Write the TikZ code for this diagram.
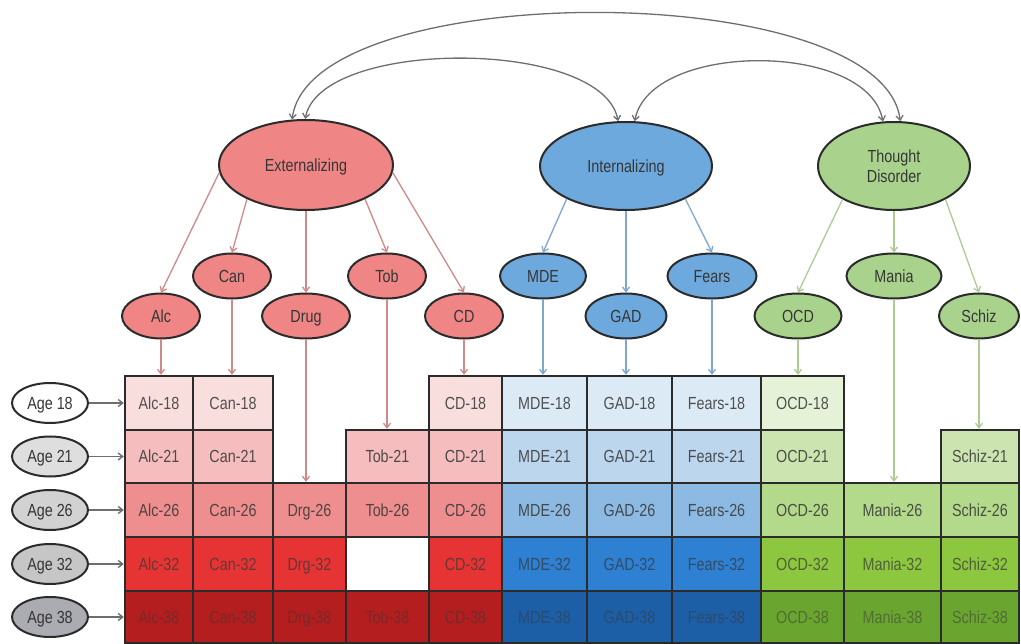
\documentclass[tikz,border=0pt]{standalone}
\usepackage{fontspec}
\setmainfont[FakeStretch=0.82]{Liberation Sans}
\usetikzlibrary{shapes.geometric,arrows.meta}

\definecolor{r18}{HTML}{F9DEDE}
\definecolor{r21}{HTML}{F5BDBD}
\definecolor{r26}{HTML}{EE8E8E}
\definecolor{r32}{HTML}{E63434}
\definecolor{r38}{HTML}{B41E1E}
\definecolor{b18}{HTML}{DCEAF6}
\definecolor{b21}{HTML}{BCD6EE}
\definecolor{b26}{HTML}{8DBAE3}
\definecolor{b32}{HTML}{2E80D2}
\definecolor{b38}{HTML}{1D5FA6}
\definecolor{g18}{HTML}{E5F2D8}
\definecolor{g21}{HTML}{CCE5B0}
\definecolor{g26}{HTML}{B3D98A}
\definecolor{g32}{HTML}{8DC63F}
\definecolor{g38}{HTML}{6AA530}
\definecolor{a18}{HTML}{FFFFFF}
\definecolor{a21}{HTML}{DEDEDE}
\definecolor{a26}{HTML}{D2D2D2}
\definecolor{a32}{HTML}{C6C6C6}
\definecolor{a38}{HTML}{ABABB2}
\definecolor{extfill}{HTML}{EF8585}
\definecolor{intfill}{HTML}{6EA9DD}
\definecolor{tdfill}{HTML}{A9D38C}
\definecolor{rline}{HTML}{D08888}
\definecolor{bline}{HTML}{7FA6CC}
\definecolor{gline}{HTML}{ADCB92}
\definecolor{bordercol}{HTML}{2B2B2B}
\definecolor{ink}{HTML}{363636}
\definecolor{arcgray}{HTML}{6E6E6E}

\expandafter\def\csname skipDrg18\endcsname{1}
\expandafter\def\csname skipTob18\endcsname{1}
\expandafter\def\csname skipMania18\endcsname{1}
\expandafter\def\csname skipSchiz18\endcsname{1}
\expandafter\def\csname skipDrg21\endcsname{1}
\expandafter\def\csname skipMania21\endcsname{1}
\expandafter\def\csname blankTob32\endcsname{1}

\tikzset{
  fixtext/.style={text height=12.3pt, text depth=0pt},
  cellbox/.style={draw=bordercol, line width=2.4pt, rectangle, inner sep=0pt, text=ink, fixtext},
  factor/.style={ellipse, draw=bordercol, line width=2pt, inner sep=0pt, text=ink, align=center},
  ind/.style={ellipse, draw=bordercol, line width=2pt, inner sep=0pt, minimum width=78, minimum height=45, text=ink, fixtext},
  agebox/.style={ellipse, draw=bordercol, line width=2pt, inner sep=0pt, minimum width=76, minimum height=40, text=ink, fixtext},
  tip/.style={-{Straight Barb[length=4.5pt,width=7pt]}},
  rarr/.style={tip, draw=rline, line width=1.3pt},
  barr/.style={tip, draw=bline, line width=1.3pt},
  garr/.style={tip, draw=gline, line width=1.3pt},
  agearrow/.style={tip, draw=arcgray, line width=1.4pt},
  arcline/.style={{Straight Barb[length=4.5pt,width=7pt]}-{Straight Barb[length=4.5pt,width=7pt]}, draw=arcgray, line width=1.3pt}
}

\begin{document}
\begin{tikzpicture}[x=1pt,y=-1pt,font=\fontsize{17.5}{21}\selectfont]
\useasboundingbox (0,0) rectangle (1021,644);

% grid of cells
\foreach \n/\l/\r/\f in {Alc/125/193/r, Can/193/273/r, Drg/273/346/r, Tob/346/429/r, CD/429/502/r, MDE/502/587/b, GAD/587/672/b, Fears/672/761/b, OCD/761/844/g, Mania/844/941/g, Schiz/941/1019/g}{
  \foreach \y/\t/\b/\o in {18/376/430/0.85, 21/430/483/0.85, 26/483/537/0.85, 32/537/591/0.7, 38/591/643/0.5}{
    \ifcsname skip\n\y\endcsname\else
      \ifcsname blank\n\y\endcsname
        \node[cellbox, fill=white, minimum width={\r-\l}, minimum height={\b-\t}] (\n\y) at ({(\l+\r)/2},{(\t+\b)/2}) {};
      \else
        \node[cellbox, fill=\f\y, text opacity=\o, minimum width={\r-\l}, minimum height={\b-\t}] (\n\y) at ({(\l+\r)/2},{(\t+\b)/2}) {\n-\y};
      \fi
    \fi
  }
}

% age nodes
\foreach \y/\c in {18/403, 21/456.5, 26/510, 32/564, 38/617}{
  \node[agebox, fill=a\y] (age\y) at (50,\c) {Age \y};
  \draw[agearrow] (age\y) -- (age\y -| Alc\y.west);
}

% factors
\node[factor, fixtext, fill=extfill, minimum width=174, minimum height=90] (Ext) at (306,165) {Externalizing};
\node[factor, fixtext, fill=intfill, minimum width=172, minimum height=88] (Int) at (626,166) {Internalizing};
\node[factor, fill=tdfill, minimum width=152, minimum height=88] (TD) at (894,166) {Thought\\[-1pt]Disorder};

% indicators
\node[ind, fill=extfill] (Alc) at (161,316) {Alc};
\node[ind, fill=extfill] (Can) at (232,276) {Can};
\node[ind, fill=extfill, minimum width=88] (Drug) at (306,316) {Drug};
\node[ind, fill=extfill] (Tob) at (387,276) {Tob};
\node[ind, fill=extfill] (CD) at (464,316) {CD};
\node[ind, fill=intfill, minimum width=86] (MDE) at (543,276) {MDE};
\node[ind, fill=intfill, minimum width=81] (GAD) at (626,316) {GAD};
\node[ind, fill=intfill, minimum width=89] (Fears) at (712,276) {Fears};
\node[ind, fill=tdfill, minimum width=87] (OCD) at (798,316) {OCD};
\node[ind, fill=tdfill, minimum width=95] (Mania) at (894,276) {Mania};
\node[ind, fill=tdfill, minimum width=80] (Schiz) at (979,316) {Schiz};

% factor -> indicator
\draw[rarr] (Ext.185) -- (Alc.north);
\draw[rarr] (Ext.210) -- (Can.north);
\draw[rarr] (Ext.270) -- (Drug.north);
\draw[rarr] (Ext.330) -- (Tob.north);
\draw[rarr] (Ext.355) -- (CD.north);
\draw[barr] (Int.209) -- (MDE.north);
\draw[barr] (Int.270) -- (GAD.north);
\draw[barr] (Int.331) -- (Fears.north);
\draw[garr] (TD.213) -- (OCD.north);
\draw[garr] (TD.270) -- (Mania.north);
\draw[garr] (TD.327) -- (Schiz.north);

% indicator -> cells
\draw[rarr] (Alc) -- (Alc |- Alc18.north);
\draw[rarr] (Can) -- (Can |- Can18.north);
\draw[rarr] (Drug) -- (Drug |- Drg26.north);
\draw[rarr] (Tob) -- (Tob |- Tob21.north);
\draw[rarr] (CD) -- (CD |- CD18.north);
\draw[barr] (MDE) -- (MDE |- MDE18.north);
\draw[barr] (GAD) -- (GAD |- GAD18.north);
\draw[barr] (Fears) -- (Fears |- Fears18.north);
\draw[garr] (OCD) -- (OCD |- OCD18.north);
\draw[garr] (Mania) -- (Mania |- Mania26.north);
\draw[garr] (Schiz) -- (Schiz |- Schiz21.north);

% correlations between factors
\draw[arcline] (Ext.107) .. controls (310,-23) and (882,-23) .. (TD.82);
\draw[arcline] (Ext.91) .. controls (320,38) and (603,38) .. (Int.100);
\draw[arcline] (Int.79) .. controls (650,41) and (868,41) .. (TD.104);
\end{tikzpicture}
\end{document}
